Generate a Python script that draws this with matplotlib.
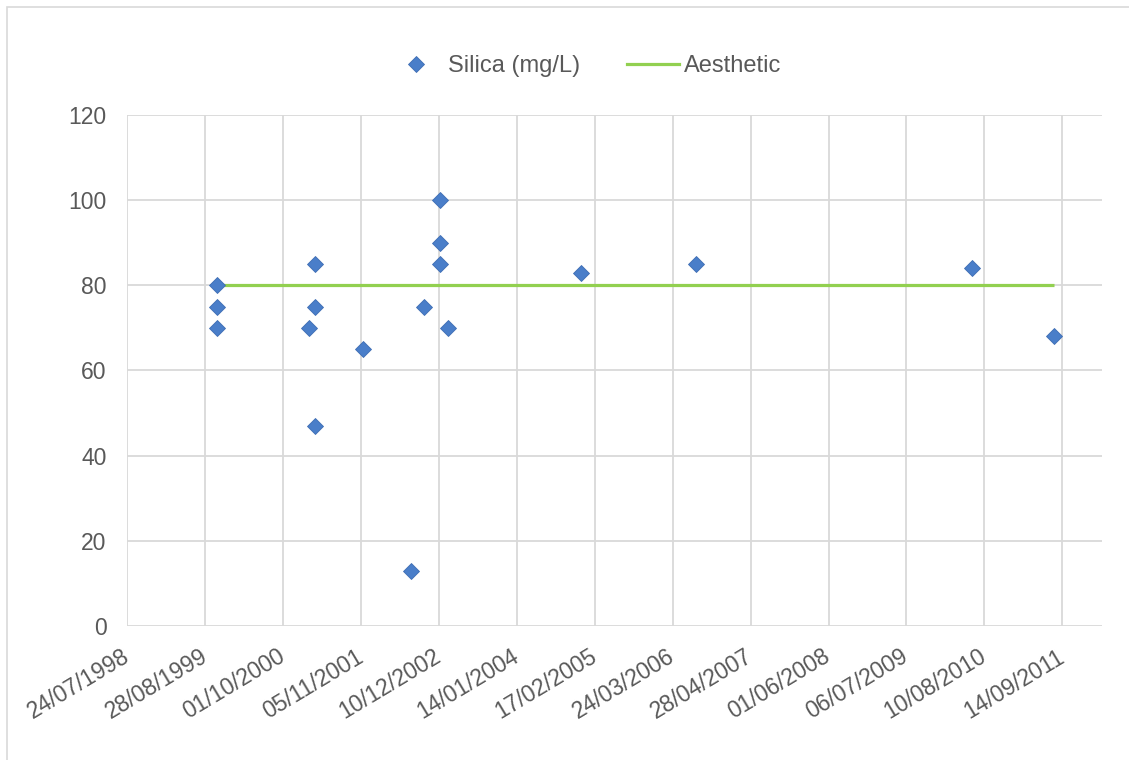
import numpy as np
import matplotlib.pyplot as plt
import matplotlib.dates as mdates
import matplotlib.transforms as mtransforms
from matplotlib.lines import Line2D
from datetime import date, timedelta

plt.rcParams['font.family'] = ['Liberation Sans', 'DejaVu Sans']

# sample dates and silica values (mg/L)
dates = ["1999-10-27", "1999-10-27", "1999-10-27",
         "2001-02-11", "2001-03-12", "2001-03-12", "2001-03-12",
         "2001-11-15", "2002-07-21", "2002-09-24",
         "2002-12-13", "2002-12-13", "2002-12-13", "2003-01-27",
         "2004-12-06", "2006-07-20", "2010-06-05", "2011-08-02"]
silica = [80, 75, 70,
          70, 85, 75, 47,
          65, 13, 75,
          100, 90, 85, 70,
          83, 85, 84, 68]

aesthetic_dates = ["1999-10-27", "2011-08-02"]
aesthetic = [80, 80]

x_start = date(1998, 7, 24)
x_step = 400  # days between ticks
n_ticks = 13

grey = '#595959'
grid_col = '#D9D9D9'

fig = plt.figure(figsize=(11.29, 7.6), dpi=100)
ax = fig.add_axes([0.1129, 0.1763, 0.8632, 0.6724])

d = [mdates.datestr2num(s) for s in dates]
da = [mdates.datestr2num(s) for s in aesthetic_dates]

ax.plot(da, aesthetic, color='#92D050', lw=2.3, solid_capstyle='butt', zorder=2)
ax.plot(d, silica, ls='none', marker='D', ms=8.5, color='#4A7EC9',
        mec='#3E6DB3', mew=0.6, zorder=3)

ticks = [mdates.date2num(x_start + timedelta(days=k * x_step)) for k in range(n_ticks)]
ax.set_xticks(ticks)
ax.set_xticklabels([(x_start + timedelta(days=k * x_step)).strftime('%d/%m/%Y')
                    for k in range(n_ticks)])
ax.set_xlim(ticks[0], ticks[0] + 12.51 * x_step)
ax.set_ylim(0, 120)
ax.set_yticks(np.arange(0, 121, 20))

ax.tick_params(axis='both', length=0, labelcolor=grey)
ax.tick_params(axis='y', pad=15, labelsize=16.5)
ax.tick_params(axis='x', pad=0, labelsize=16.5)

shift = mtransforms.ScaledTranslation(-0.06, -0.19, fig.dpi_scale_trans)
for lab in ax.get_xticklabels():
    lab.set_rotation(31)
    lab.set_ha('right')
    lab.set_va('top')
    lab.set_rotation_mode('anchor')
    lab.set_transform(lab.get_transform() + shift)

ax.grid(True, color=grid_col, lw=1.3)
ax.set_axisbelow(True)
for s in ax.spines.values():
    s.set_visible(False)

handles = [Line2D([], [], ls='none', marker='D', ms=8.5, color='#4A7EC9', mec='#3E6DB3', mew=0.6),
           Line2D([], [], color='#92D050', lw=2.3)]
fig.legend(handles, ['Silica (mg/L)', 'Aesthetic'], loc='center', bbox_to_anchor=(0.519, 0.913),
           ncol=2, frameon=False, fontsize=17, labelcolor=grey, columnspacing=2.0,
           handlelength=2.2, handletextpad=0.22)

fig.add_artist(plt.Rectangle((0.0062, -0.05), 1.1, 1.0408, transform=fig.transFigure,
                             fill=False, ec=grid_col, lw=1.2))

fig.savefig('out.png', dpi=100)
